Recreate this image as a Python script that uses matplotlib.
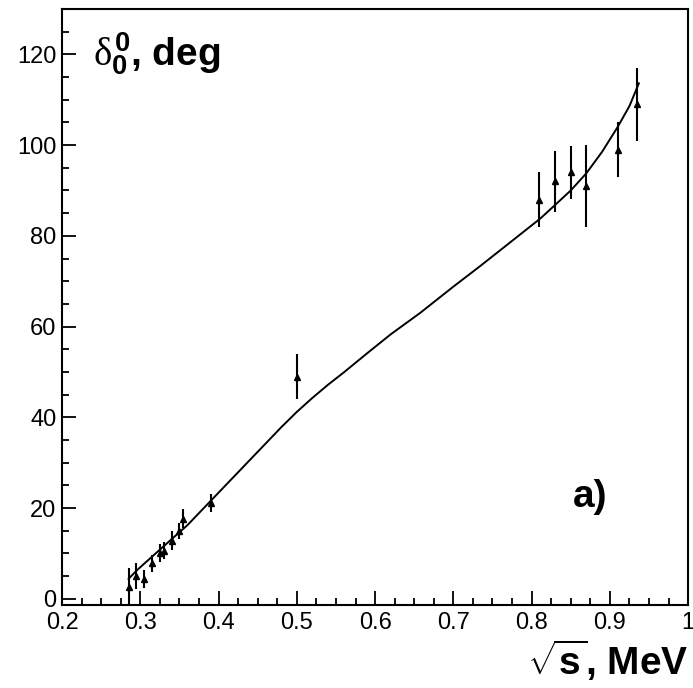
import matplotlib
matplotlib.use("Agg")
import matplotlib.pyplot as plt
from matplotlib.ticker import MultipleLocator

plt.rcParams['font.family'] = ['Liberation Sans', 'DejaVu Sans']
plt.rcParams['mathtext.fontset'] = 'custom'
plt.rcParams['mathtext.rm'] = 'Liberation Sans'
plt.rcParams['mathtext.bf'] = 'Liberation Sans:bold'
plt.rcParams['mathtext.it'] = 'Liberation Serif'

# Data points (sqrt(s), delta, error)
x_pts = [0.285, 0.295, 0.305, 0.315, 0.325, 0.33, 0.34, 0.35, 0.355,
         0.39, 0.50, 0.81, 0.83, 0.85, 0.87, 0.91, 0.935]
y_pts = [2.7, 5.0, 4.4, 7.8, 10.1, 10.6, 12.8, 15.0, 17.7,
         21.2, 49.0, 88.0, 92.0, 94.0, 91.0, 99.0, 109.0]
y_err = [4.0, 2.9, 1.9, 1.9, 1.9, 1.9, 2.1, 1.8, 2.0,
         2.0, 5.0, 6.0, 6.8, 5.9, 9.0, 6.0, 8.0]

# Theoretical curve
x_curve = [0.285, 0.295, 0.315, 0.341, 0.36, 0.375, 0.39, 0.42, 0.45, 0.48,
           0.50, 0.52, 0.54, 0.56, 0.589, 0.62, 0.6575, 0.70, 0.734, 0.77,
           0.811, 0.83, 0.85, 0.87, 0.89, 0.91, 0.925, 0.937]
y_curve = [4.4, 6.2, 9.3, 13.3, 16.2, 18.9, 21.6, 27.0, 32.4, 37.8,
           41.2, 44.3, 47.2, 49.9, 54.0, 58.3, 63.0, 68.8, 73.3, 78.2,
           83.8, 86.8, 90.0, 93.8, 98.5, 104.0, 108.6, 113.6]

fig = plt.figure(figsize=(6.93, 6.88), dpi=100)
ax = fig.add_axes([0.0895, 0.121, 0.9035, 0.866])

ax.plot(x_curve, y_curve, color='black', lw=1.4, zorder=2)
ax.errorbar(x_pts, y_pts, yerr=y_err, fmt='^', color='black', ms=4.5,
            elinewidth=1.5, capsize=0, zorder=3)

ax.set_xlim(0.2, 1.0)
ax.set_ylim(-1.3, 130)

ax.xaxis.set_minor_locator(MultipleLocator(0.025))
ax.yaxis.set_major_locator(MultipleLocator(20))
ax.yaxis.set_minor_locator(MultipleLocator(5))
ax.set_xticks([0.2, 0.3, 0.4, 0.5, 0.6, 0.7, 0.8, 0.9, 1.0])
ax.set_xticklabels(['0.2', '0.3', '0.4', '0.5', '0.6', '0.7', '0.8', '0.9', '1'])

ax.tick_params(which='both', direction='in', top=False, right=False,
               labelsize=17, width=1.3)
ax.tick_params(which='major', length=10)
ax.tick_params(which='minor', length=5)
ax.tick_params(axis='x', pad=5)
ax.tick_params(axis='y', pad=4)

for s in ax.spines.values():
    s.set_linewidth(1.5)

ax.text(0.05, 0.925, r'$\delta_{\mathbf{0}}^{\mathbf{0}}$, deg', transform=ax.transAxes,
        fontsize=28, fontweight='bold', ha='left', va='center')
fig.text(0.993, 0.019, r'$\sqrt{\mathbf{s}}$, MeV', fontsize=28, fontweight='bold',
         ha='right', va='baseline')
ax.text(0.843, 0.181, 'a)', transform=ax.transAxes, fontsize=28,
        fontweight='bold', ha='center', va='center')

fig.savefig('out.png', dpi=100)
